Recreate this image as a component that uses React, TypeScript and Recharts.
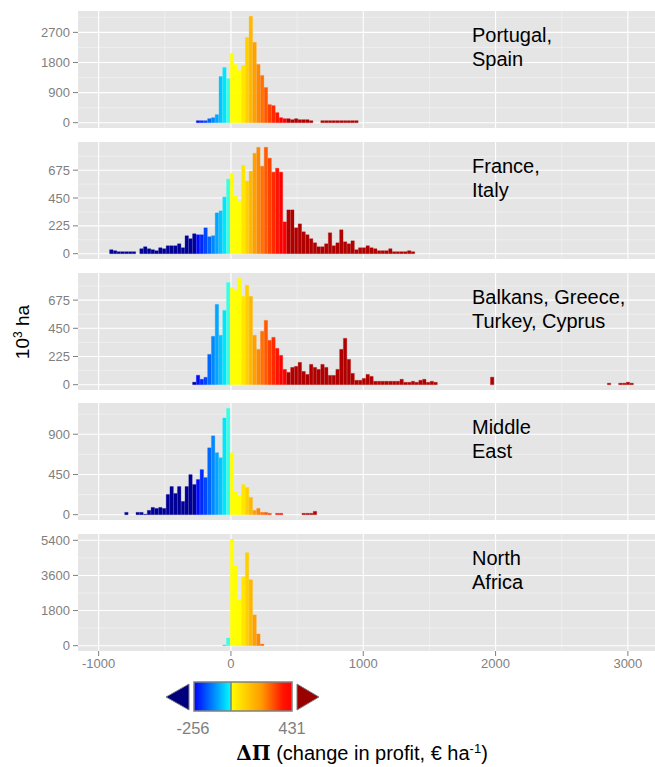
import React from "react";
import { Bar, BarChart, CartesianGrid, Cell, XAxis, YAxis } from "recharts";

// histogram bins: width 28.5 €/ha, bin 0 starts at -5
const BIN_WIDTH = 28.5;
const BIN_ORIGIN = -5;

const X_DOMAIN: [number, number] = [-1156, 3205];
const X_MAJOR = [-1000, 0, 1000, 2000, 3000];
const X_MINOR = [-500, 500, 1500, 2500];

// 10^3 ha per bin, first bin index given by *Start
const iberiaStart = -9;
const iberia = [
  60, 60, 60, 120, 150, 240, 1380, 1650, 1320, 2080, 1740, 1560, 1710, 2550,
  3180, 2400, 1740, 1410, 1050, 540, 510, 300, 150, 120, 120, 90, 120, 90, 90,
  90, 60, 0, 0, 60, 60, 60, 60, 60, 60, 60, 60, 60, 60,
];

const franceStart = -32;
const france = [
  32, 24, 16, 16, 16, 16, 16, 0, 40, 56, 40, 32, 24, 48, 40, 64, 64, 64, 80,
  48, 145, 121, 161, 153, 153, 209, 137, 145, 330, 346, 458, 603, 651, 466, 426,
  715, 587, 667, 812, 860, 707, 860, 772, 659, 691, 659, 257, 354, 354, 209, 241,
  177, 153, 121, 88, 56, 56, 80, 169, 64, 88, 193, 96, 80, 104, 32, 48, 48, 64,
  48, 40, 24, 24, 24, 40, 16, 16, 16, 16, 24, 16,
];

const balkansStart = -10;
const balkans = [
  20, 75, 43, 59, 242, 386, 641, 394, 593, 816, 776, 753, 849, 705, 793, 705,
  394, 282, 426, 513, 354, 378, 290, 234, 122, 98, 138, 146, 178, 106, 82, 162,
  138, 122, 162, 138, 74, 74, 122, 282, 370, 202, 90, 35, 35, 50, 82, 66, 27,
  27, 27, 27, 27, 27, 27, 43, 19, 19, 27, 19, 35, 43, 19, 27, 19,
];
const balkansFarStart = 69;
const balkansFar = [60];
const balkansEndStart = 100;
const balkansEnd = [12, 0, 0, 12, 12, 20, 12];

const mideastStart = -28;
const mideast = [
  26, 0, 0, 26, 26, 5, 48, 81, 70, 81, 70, 226, 315, 237, 315, 148, 315, 448,
  337, 393, 504, 415, 748, 882, 693, 637, 1082, 1190, 693, 259, 215, 337, 304,
  193, 48, 70, 26, 26, 15, 0, 15, 15, 0, 0, 0, 0, 0, 15, 15, 15, 37,
];

const nafricaStart = -2;
const nafrica = [34, 394, 5451, 4097, 2348, 3531, 4765, 3377, 1577, 600, 86];

type Run = [number, number[]];

const panels: { label: string[]; runs: Run[]; ticks: number[] }[] = [
  { label: ["Portugal,", "Spain"], runs: [[iberiaStart, iberia]], ticks: [0, 900, 1800, 2700] },
  { label: ["France,", "Italy"], runs: [[franceStart, france]], ticks: [0, 225, 450, 675] },
  {
    label: ["Balkans, Greece,", "Turkey, Cyprus"],
    runs: [
      [balkansStart, balkans],
      [balkansFarStart, balkansFar],
      [balkansEndStart, balkansEnd],
    ],
    ticks: [0, 225, 450, 675],
  },
  { label: ["Middle", "East"], runs: [[mideastStart, mideast]], ticks: [0, 450, 900] },
  { label: ["North", "Africa"], runs: [[nafricaStart, nafrica]], ticks: [0, 1800, 3600, 5400] },
];

const PANEL_TOPS = [11, 142, 273, 403, 534];
const PANEL_H = 117;
const PAD = 8; // extra room above/below each plot so tick labels are not clipped
const PLOT_LEFT = 78;
const WIDTH = 655;
const FONT = "'Liberation Sans', Arial, Helvetica, sans-serif";
const AXIS_GREY = "#7F7F7F";

function binColor(x: number): string {
  if (x < -256) return "#000096";
  if (x > 431) return "#B10000";
  if (x < 0) {
    const t = (x + 256) / 256;
    const g = Math.round(255 * Math.min(1, t / 0.9));
    const r = t > 0.85 ? Math.round(((t - 0.85) / 0.15) * 110) : 0;
    const b = t > 0.85 ? Math.round(255 - ((t - 0.85) / 0.15) * 55) : 255;
    return `rgb(${r},${g},${b})`;
  }
  const t = x / 431;
  const g = Math.round(255 * Math.max(0, Math.min(1, 1 - (t - 0.15) / 0.72)));
  return `rgb(255,${g},0)`;
}

function rowsOf(runs: Run[]) {
  const out: { x: number; v: number }[] = [];
  for (const [start, counts] of runs) {
    counts.forEach((v, i) => {
      out.push({ x: BIN_ORIGIN + BIN_WIDTH * (start + i + 0.5), v });
    });
  }
  return out;
}

function minorOf(ticks: number[], hi: number) {
  const step = ticks[1] - ticks[0];
  const res: number[] = [];
  for (let v = step / 2; v < hi; v += step) res.push(v);
  return res;
}

const barPx = (BIN_WIDTH * (WIDTH - PLOT_LEFT)) / (X_DOMAIN[1] - X_DOMAIN[0]);

function Panel({ idx }: { idx: number }) {
  const p = panels[idx];
  const last = idx === panels.length - 1;
  const rows = rowsOf(p.runs);
  const max = Math.max(...rows.map((r) => r.v));
  const lo = -0.05 * max;
  const hi = 1.05 * max;
  const tickStyle = { fill: AXIS_GREY, fontSize: 13, fontFamily: FONT };
  return (
    <div style={{ position: "absolute", left: 0, top: PANEL_TOPS[idx] - PAD }}>
      <BarChart
        width={WIDTH}
        height={PANEL_H + PAD + (last ? 26 : PAD)}
        data={rows}
        margin={{ top: PAD, right: 0, bottom: last ? 0 : PAD, left: PLOT_LEFT - 70 }}
      >
        <CartesianGrid
          fill="#E5E5E5"
          stroke="#F2F2F2"
          strokeWidth={0.7}
          horizontalValues={minorOf(p.ticks, hi)}
          verticalValues={X_MINOR}
        />
        <CartesianGrid
          fill="none"
          stroke="#FFFFFF"
          strokeWidth={1.1}
          horizontalValues={p.ticks}
          verticalValues={X_MAJOR}
        />
        <XAxis
          type="number"
          dataKey="x"
          domain={X_DOMAIN}
          allowDataOverflow
          ticks={X_MAJOR}
          interval={0}
          hide={!last}
          height={26}
          axisLine={false}
          tickLine={{ stroke: AXIS_GREY }}
          tickSize={5}
          tickMargin={3}
          tick={tickStyle}
        />
        <YAxis
          type="number"
          domain={[lo, hi]}
          allowDataOverflow
          ticks={p.ticks}
          interval={0}
          width={70}
          axisLine={false}
          tickLine={{ stroke: AXIS_GREY }}
          tickSize={5}
          tickMargin={3}
          tick={tickStyle}
        />
        <Bar dataKey="v" barSize={barPx} isAnimationActive={false}>
          {rows.map((r, i) => (
            <Cell key={i} fill={binColor(r.x)} stroke={binColor(r.x)} strokeWidth={0.3} />
          ))}
        </Bar>
      </BarChart>
    </div>
  );
}

function Overlay() {
  return (
    <svg
      width={WIDTH}
      height={767}
      style={{ position: "absolute", left: 0, top: 0, pointerEvents: "none" }}
      fontFamily={FONT}
    >
      <defs>
        <linearGradient id="cbBlue" x1="0" y1="0" x2="1" y2="0">
          <stop offset="0%" stopColor="#0000FF" />
          <stop offset="50%" stopColor="#0080FF" />
          <stop offset="100%" stopColor="#00FFFF" />
        </linearGradient>
        <linearGradient id="cbRed" x1="0" y1="0" x2="1" y2="0">
          <stop offset="0%" stopColor="#FFFF00" />
          <stop offset="50%" stopColor="#FF9A00" />
          <stop offset="85%" stopColor="#FF1500" />
          <stop offset="100%" stopColor="#FF0000" />
        </linearGradient>
      </defs>

      {panels.map((p, i) =>
        p.label.map((line, j) => (
          <text key={`${i}-${j}`} x={472} y={PANEL_TOPS[i] + 31 + j * 24} fontSize={20} fill="#000">
            {line}
          </text>
        ))
      )}

      <text transform="translate(29,332) rotate(-90)" textAnchor="middle" fontSize={19} fill="#000">
        10<tspan dy={-7} fontSize={12}>3</tspan>
        <tspan dy={7}> ha</tspan>
      </text>

      {/* colour key */}
      <polygon points="166,697 189,684 189,710" fill="#00007F" stroke="#808080" strokeWidth={1} />
      <polygon points="297,684 297,710 319,697" fill="#990000" stroke="#808080" strokeWidth={1} />
      <rect x={194} y={682} width={37} height={29} fill="url(#cbBlue)" />
      <rect x={231} y={682} width={61} height={29} fill="url(#cbRed)" />
      <rect x={194} y={682} width={98} height={29} fill="none" stroke="#808080" strokeWidth={1.5} />
      <line x1={231} y1={682} x2={231} y2={711} stroke="#808080" strokeWidth={1.5} />
      <text x={193} y={734} textAnchor="middle" fontSize={16.5} fill={AXIS_GREY}>
        -256
      </text>
      <text x={292} y={734} textAnchor="middle" fontSize={16.5} fill={AXIS_GREY}>
        431
      </text>

      <text x={362} y={760} textAnchor="middle" fontSize={20} fill="#000">
        <tspan fontFamily="'DejaVu Serif', 'Liberation Serif', serif" fontWeight="bold">
          ΔΠ
        </tspan>
        <tspan> (change in profit, € ha</tspan>
        <tspan dy={-7} fontSize={13}>-1</tspan>
        <tspan dy={7}>)</tspan>
      </text>
    </svg>
  );
}

export default function App() {
  return (
    <div
      style={{
        position: "absolute",
        left: 0,
        top: 0,
        width: WIDTH,
        height: 767,
        background: "#FFFFFF",
        fontFamily: FONT,
      }}
    >
      {panels.map((_, i) => (
        <Panel key={i} idx={i} />
      ))}
      <Overlay />
    </div>
  );
}
